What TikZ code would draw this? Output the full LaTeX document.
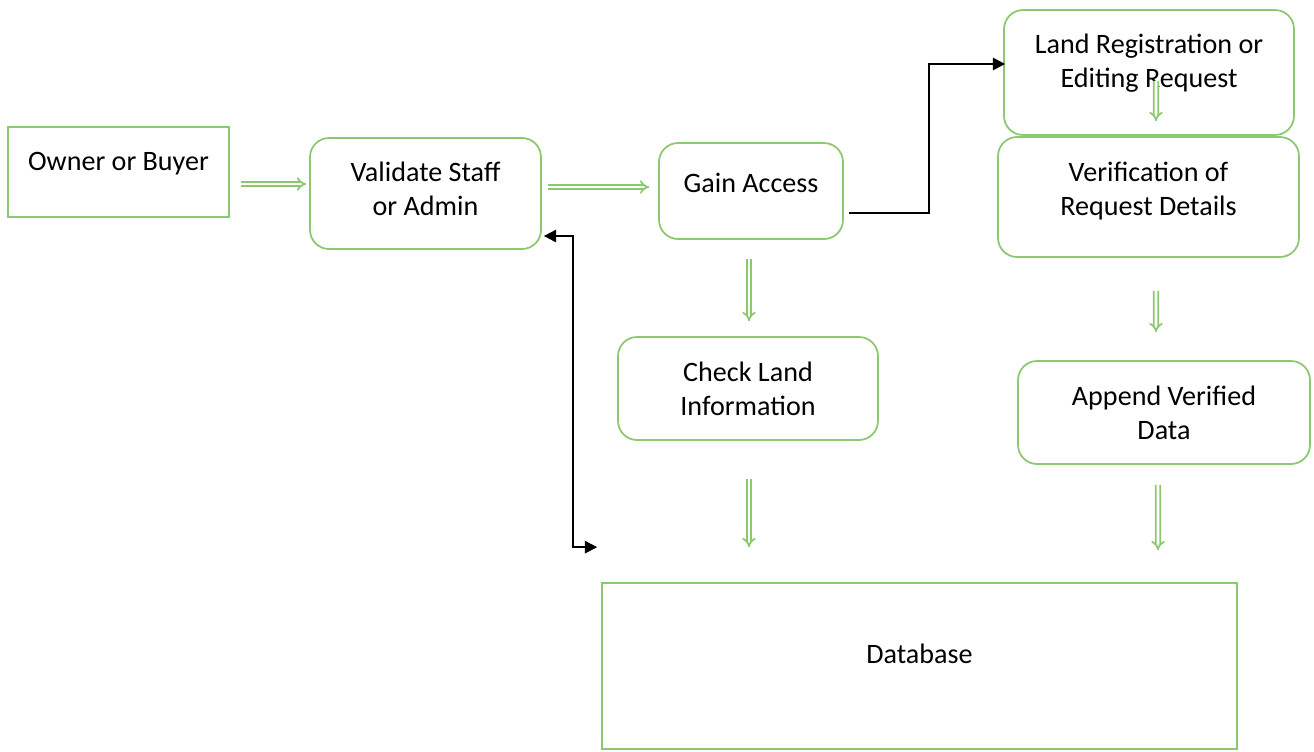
\documentclass[tikz,border=0pt]{standalone}
\usepackage{fontspec}
\setmainfont{Carlito}
\usetikzlibrary{arrows.meta}
\definecolor{boxgreen}{RGB}{140,200,110}
\begin{document}
\begin{tikzpicture}[x=0.02cm,y=-0.02cm,
  box/.style={draw=boxgreen,line width=1pt,align=center,font=\fontsize{16}{19.5}\selectfont},
  roundbox/.style={box,rounded corners=0.38cm},
  flow/.style={draw=boxgreen,line width=1pt,double=white,double distance=1.5pt,-{Implies}},
  link/.style={black,line width=1.1pt}]
\useasboundingbox (0,0) rectangle (1314,751);
% boxes
\node[box,text depth=12.5pt,minimum width=4.42cm,minimum height=1.8cm](owner)at(118.5,172){Owner or Buyer};
\node[roundbox,text depth=5.6pt,minimum width=4.62cm,minimum height=2.22cm](validate)at(425.5,193.5){Validate Staff\\or Admin};
\node[roundbox,text depth=9pt,minimum width=3.68cm,minimum height=1.92cm](gain)at(751,191){Gain Access};
\node[roundbox,text depth=13.7pt,minimum width=5.8cm,minimum height=2.5cm](landreg)at(1149,72.5){Land Registration or\\Editing Request};
\node[roundbox,text depth=9pt,minimum width=6.02cm,minimum height=2.4cm](verif)at(1148.5,197){Verification of\\Request Details};
\node[roundbox,minimum width=5.2cm,minimum height=2.06cm](check)at(748,388.5){Check Land\\Information};
\node[roundbox,minimum width=5.84cm,minimum height=2.06cm](append)at(1164,412.5){Append Verified\\Data};
\node[box,text depth=13.6pt,minimum width=12.7cm,minimum height=3.32cm](database)at(919.5,666){Database};
% green flows
\draw[flow]([shift={(11,12)}]owner.east)--([shift={(-3,-9.5)}]validate.west);
\draw[flow]([shift={(6,-6.5)}]validate.east)--([shift={(-9,-4)}]gain.west);
\draw[flow]([shift={(-2,19)}]gain.south)--([shift={(1,-15)}]check.north);
\draw[flow]([shift={(1,38)}]check.south)--([shift={(-170.5,-35)}]database.north);
\draw[flow]([shift={(7,-55)}]landreg.south)--([shift={(7.5,-15)}]verif.north);
\draw[flow]([shift={(7.5,33)}]verif.south)--([shift={(-8,-28)}]append.north);
\draw[flow]([shift={(-6,20)}]append.south)--([shift={(238.5,-32)}]database.north);
% black links
\draw[link,-{Triangle[length=7pt,width=7pt]}]([shift={(5,22)}]gain.east)--++(80,0)|-([shift={(2,-8.5)}]landreg.west);
\draw[link,{Triangle[length=7pt,width=7pt]}-{Triangle[length=7pt,width=7pt]}]([shift={(2,42.5)}]validate.east)--++(29,0)|-([shift={(-4,-35)}]database.north west);
\end{tikzpicture}
\end{document}
